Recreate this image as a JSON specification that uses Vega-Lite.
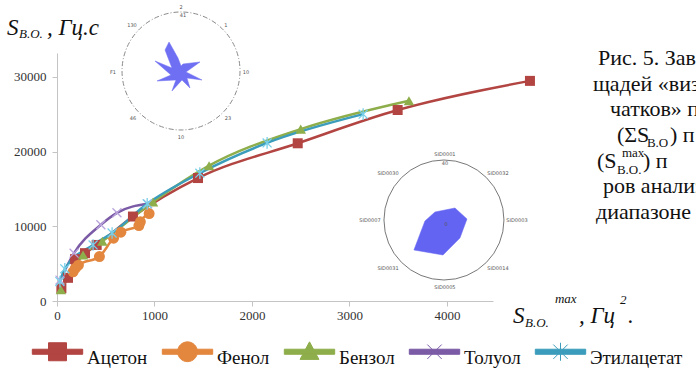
{
  "$schema": "https://vega.github.io/schema/vega-lite/v6.json",
  "width": 436,
  "height": 248,
  "autosize": "none",
  "padding": {"left": 57, "top": 53, "right": 203, "bottom": 67},
  "background": "white",
  "config": {"view": {"stroke": null}, "font": "Liberation Serif"},
  "datasets": {
    "series": [
      {"s": "Ацетон", "x": 45, "y": 1700}, {"s": "Ацетон", "x": 113, "y": 3100}, {"s": "Ацетон", "x": 185, "y": 5600}, {"s": "Ацетон", "x": 287, "y": 6400}, {"s": "Ацетон", "x": 407, "y": 7500}, {"s": "Ацетон", "x": 779, "y": 11300}, {"s": "Ацетон", "x": 1446, "y": 16450}, {"s": "Ацетон", "x": 2469, "y": 21100}, {"s": "Ацетон", "x": 3494, "y": 25550}, {"s": "Ацетон", "x": 4851, "y": 29450},
      {"s": "Фенол", "x": 165, "y": 3900}, {"s": "Фенол", "x": 190, "y": 4400}, {"s": "Фенол", "x": 220, "y": 4800}, {"s": "Фенол", "x": 435, "y": 5950}, {"s": "Фенол", "x": 580, "y": 8400}, {"s": "Фенол", "x": 655, "y": 9200}, {"s": "Фенол", "x": 840, "y": 10100}, {"s": "Фенол", "x": 855, "y": 10600}, {"s": "Фенол", "x": 945, "y": 11700},
      {"s": "Бензол", "x": 40, "y": 1500}, {"s": "Бензол", "x": 267, "y": 6150}, {"s": "Бензол", "x": 465, "y": 8000}, {"s": "Бензол", "x": 985, "y": 13250}, {"s": "Бензол", "x": 1560, "y": 18100}, {"s": "Бензол", "x": 2500, "y": 23000}, {"s": "Бензол", "x": 3610, "y": 26800},
      {"s": "Толуол", "x": 31, "y": 2800}, {"s": "Толуол", "x": 175, "y": 6400}, {"s": "Толуол", "x": 450, "y": 10200}, {"s": "Толуол", "x": 615, "y": 11800}, {"s": "Толуол", "x": 930, "y": 13000},
      {"s": "Этилацетат", "x": 30, "y": 2600}, {"s": "Этилацетат", "x": 80, "y": 4300}, {"s": "Этилацетат", "x": 370, "y": 7500}, {"s": "Этилацетат", "x": 565, "y": 9100}, {"s": "Этилацетат", "x": 925, "y": 13000}, {"s": "Этилацетат", "x": 1465, "y": 17100}, {"s": "Этилацетат", "x": 2155, "y": 21150}, {"s": "Этилацетат", "x": 3140, "y": 25000}
    ],
    "star": [
      {"i": 1, "x": 1149, "y": 34654}, {"i": 2, "x": 1241, "y": 32513}, {"i": 3, "x": 1272, "y": 31443}, {"i": 4, "x": 1292, "y": 31711}, {"i": 5, "x": 1467, "y": 31978}, {"i": 6, "x": 1323, "y": 30640}, {"i": 7, "x": 1487, "y": 29570}, {"i": 8, "x": 1333, "y": 29837}, {"i": 9, "x": 1364, "y": 28499}, {"i": 10, "x": 1282, "y": 29570}, {"i": 11, "x": 1179, "y": 28098}, {"i": 12, "x": 1220, "y": 29570}, {"i": 13, "x": 1026, "y": 29436}, {"i": 14, "x": 1169, "y": 30239}, {"i": 15, "x": 1005, "y": 32112}, {"i": 16, "x": 1179, "y": 31175}, {"i": 17, "x": 1108, "y": 33584}
    ],
    "poly": [
      {"i": 1, "x": 3877, "y": 11908}, {"i": 2, "x": 4082, "y": 12443}, {"i": 3, "x": 4205, "y": 10972}, {"i": 4, "x": 4133, "y": 8429}, {"i": 5, "x": 3959, "y": 6155}, {"i": 6, "x": 3661, "y": 6824}, {"i": 7, "x": 3774, "y": 10704}
    ],
    "tiny": [
      {"t": "2", "x": 1272, "y": 39337}, {"t": "41", "x": 1292, "y": 38267}, {"t": "130", "x": 769, "y": 36929}, {"t": "1", "x": 1733, "y": 36929}, {"t": "F1", "x": 574, "y": 30640}, {"t": "10", "x": 1938, "y": 30640}, {"t": "46", "x": 779, "y": 24485}, {"t": "23", "x": 1754, "y": 24485}, {"t": "10", "x": 1272, "y": 21943},
      {"t": "SID0001", "x": 3979, "y": 19669}, {"t": "40", "x": 3979, "y": 18464}, {"t": "SID0032", "x": 4523, "y": 17126}, {"t": "SID0003", "x": 4718, "y": 10838}, {"t": "SID0014", "x": 4523, "y": 4415}, {"t": "SID0005", "x": 3979, "y": 1873}, {"t": "SID0031", "x": 3395, "y": 4415}, {"t": "SID0007", "x": 3210, "y": 10838}, {"t": "SID0030", "x": 3395, "y": 17126}, {"t": "0", "x": 3990, "y": 10303}
    ],
    "ititle": [
      {"t": "S", "x": -513, "y": 35591}, {"t": ", Гц.с", "x": -103, "y": 35591},
      {"t": "S", "x": 4677, "y": -2944}, {"t": ", Гц", "x": 5354, "y": -2944}, {"t": ".", "x": 5856, "y": -2944}
    ],
    "isub": [
      {"t": "B.O.", "x": -390, "y": 35190}, {"t": "B.O.", "x": 4800, "y": -3479}, {"t": "max", "x": 5107, "y": -268}, {"t": "2", "x": 5774, "y": -401}
    ],
    "caption": [
      {"t": "Рис. 5. Зав", "x": 5549, "y": 31577}, {"t": "щадей «виз", "x": 5497, "y": 28098}, {"t": "чатков» п", "x": 5672, "y": 24753},
      {"t": "(ΣS", "x": 5743, "y": 21274}, {"t": ") п", "x": 6287, "y": 21274},
      {"t": "(S", "x": 5538, "y": 17795}, {"t": ") п", "x": 6010, "y": 17795},
      {"t": "ров анализ", "x": 5600, "y": 14450}, {"t": "диапазоне", "x": 5528, "y": 10972}
    ],
    "capsub": [
      {"t": "B.O", "x": 6051, "y": 20605}, {"t": "B.O.", "x": 5743, "y": 16992}, {"t": "max", "x": 5795, "y": 19267}
    ]
  },
  "encoding": {
    "x": {"field": "x", "type": "quantitative",
      "scale": {"domain": [0, 4472], "nice": false, "zero": false},
      "axis": {"values": [0, 1000, 2000, 3000, 4000], "format": "d", "title": null, "grid": false, "domainColor": "#c4c4c4", "tickColor": "#c4c4c4", "tickSize": 5, "labelFont": "Liberation Serif", "labelFontSize": 13, "labelColor": "#333333", "labelPadding": 3, "labelFlush": false}},
    "y": {"field": "y", "type": "quantitative",
      "scale": {"domain": [0, 33180], "nice": false, "zero": false},
      "axis": {"values": [0, 10000, 20000, 30000], "format": "d", "title": null, "grid": false, "domainColor": "#c4c4c4", "tickColor": "#c4c4c4", "tickSize": 5, "labelFont": "Liberation Serif", "labelFontSize": 13, "labelColor": "#333333", "labelPadding": 6, "labelFlush": false}}
  },
  "layer": [
    {"data": {"values": [{"x": 1272, "y": 30774}]}, "mark": {"type": "point", "shape": "circle", "size": 13924, "filled": false, "stroke": "#8a8a8a", "strokeWidth": 1, "strokeDash": [5, 2, 1, 2], "opacity": 1}},
    {"data": {"values": [{"x": 3969, "y": 10838}]}, "mark": {"type": "point", "shape": "circle", "size": 14400, "filled": false, "stroke": "#555555", "strokeWidth": 0.8, "opacity": 1}},
    {"data": {"name": "star"}, "mark": {"type": "line", "interpolate": "linear-closed", "fill": "#6f6ff3", "stroke": "#6f6ff3", "strokeWidth": 0.5}, "encoding": {"order": {"field": "i", "type": "quantitative"}}},
    {"data": {"name": "poly"}, "mark": {"type": "line", "interpolate": "linear-closed", "fill": "#6464f2", "stroke": "#6464f2", "strokeWidth": 0.5}, "encoding": {"order": {"field": "i", "type": "quantitative"}}},
    {"data": {"name": "tiny"}, "mark": {"type": "text", "font": "DejaVu Sans", "fontSize": 5, "fill": "#555555", "align": "center", "baseline": "middle"}, "encoding": {"text": {"field": "t"}}},
    {"data": {"name": "series"},
      "mark": {"type": "line", "interpolate": "monotone", "strokeWidth": 2.5},
      "encoding": {"color": {"field": "s", "type": "nominal",
        "scale": {"domain": ["Ацетон", "Фенол", "Бензол", "Толуол", "Этилацетат"], "range": ["#b24441", "#e3873f", "#8eae4b", "#7b5aa6", "#3b9dbb"]},
        "legend": {"orient": "none", "legendX": -25, "legendY": 289, "direction": "horizontal", "title": null,
          "labelFont": "Liberation Serif", "labelFontSize": 19, "labelColor": "#111111", "labelBaseline": "middle",
          "symbolSize": 324, "symbolOffset": 16, "labelOffset": 20, "columnPadding": 12, "symbolStrokeWidth": 1,
          "encode": {
            "labels": {"update": {"dy": {"value": 6}}},
            "symbols": {"update": {
            "shape": {"signal": "datum.value==='Ацетон' ? 'M-2.8,-0.28H2.8V0.28H-2.8Z M-1,-1H1V1H-1Z' : datum.value==='Фенол' ? 'M-2.8,-0.28H2.8V0.28H-2.8Z M1.1,0A1.1,1.1,0,1,1,-1.1,0A1.1,1.1,0,1,1,1.1,0Z' : datum.value==='Бензол' ? 'M-2.8,-0.28H2.8V0.28H-2.8Z M0,-1.1L1.05,0.85H-1.05Z' : datum.value==='Толуол' ? 'M-2.8,-0.28H2.8V0.28H-2.8Z M-0.8,-0.8L0.8,0.8M-0.8,0.8L0.8,-0.8' : 'M-2.8,-0.28H2.8V0.28H-2.8Z M-0.8,-0.8L0.8,0.8M-0.8,0.8L0.8,-0.8M0,-1L0,1'"},
            "fill": {"scale": "color", "field": "value"},
            "stroke": {"signal": "datum.value==='Толуол' ? '#b9a4dc' : datum.value==='Этилацетат' ? '#78cfe9' : scale('color', datum.value)"},
            "opacity": {"value": 1}, "fillOpacity": {"value": 1}, "strokeWidth": {"value": 1}
          }}}
        }}}
    },
    {"data": {"name": "series"}, "transform": [{"filter": {"field": "s", "equal": "Ацетон"}}],
      "mark": {"type": "point", "shape": "square", "filled": true, "opacity": 1, "size": 100},
      "encoding": {"color": {"field": "s", "type": "nominal"}}},
    {"data": {"name": "series"}, "transform": [{"filter": {"field": "s", "equal": "Фенол"}}],
      "mark": {"type": "point", "shape": "circle", "filled": true, "opacity": 1, "size": 120},
      "encoding": {"color": {"field": "s", "type": "nominal"}}},
    {"data": {"name": "series"}, "transform": [{"filter": {"field": "s", "equal": "Бензол"}}],
      "mark": {"type": "point", "shape": "triangle-up", "filled": true, "opacity": 1, "size": 110},
      "encoding": {"color": {"field": "s", "type": "nominal"}}},
    {"data": {"name": "series"}, "transform": [{"filter": {"field": "s", "equal": "Толуол"}}],
      "mark": {"type": "point", "shape": "M-1,-1L1,1M-1,1L1,-1", "filled": false, "opacity": 1, "size": 80, "strokeWidth": 1.3, "stroke": "#b9a4dc"}},
    {"data": {"name": "series"}, "transform": [{"filter": {"field": "s", "equal": "Этилацетат"}}],
      "mark": {"type": "point", "shape": "M-1,-1L1,1M-1,1L1,-1M0,-1.3L0,1.3", "filled": false, "opacity": 1, "size": 80, "strokeWidth": 1.3, "stroke": "#78cfe9"}},
    {"data": {"name": "ititle"}, "mark": {"type": "text", "font": "Liberation Serif", "fontStyle": "italic", "fontSize": 23, "fill": "#111111", "align": "left", "baseline": "alphabetic"}, "encoding": {"text": {"field": "t"}}},
    {"data": {"name": "isub"}, "mark": {"type": "text", "font": "Liberation Serif", "fontStyle": "italic", "fontSize": 13, "fill": "#111111", "align": "left", "baseline": "alphabetic"}, "encoding": {"text": {"field": "t"}}},
    {"data": {"name": "caption"}, "mark": {"type": "text", "font": "Liberation Serif", "fontSize": 22, "fill": "#111111", "align": "left", "baseline": "alphabetic"}, "encoding": {"text": {"field": "t"}}},
    {"data": {"name": "capsub"}, "mark": {"type": "text", "font": "Liberation Serif", "fontSize": 13, "fill": "#111111", "align": "left", "baseline": "alphabetic"}, "encoding": {"text": {"field": "t"}}}
  ]
}
